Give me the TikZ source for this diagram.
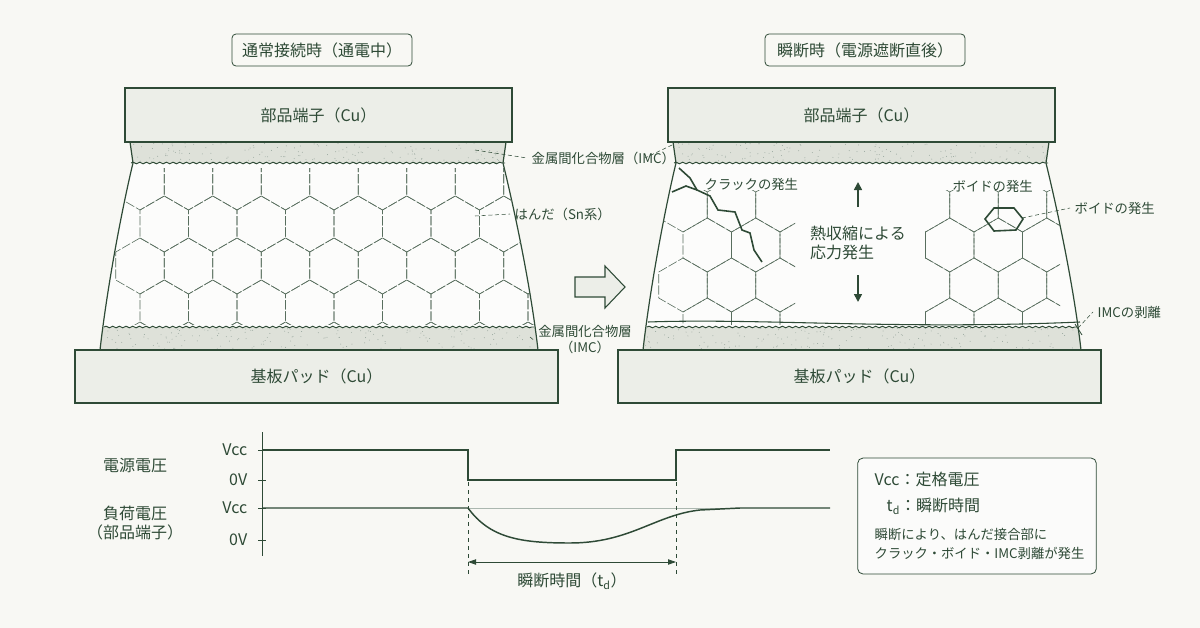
\documentclass[tikz,border=0pt]{standalone}
\usepackage{fontspec}
\setmainfont{Noto Sans CJK JP}
\usetikzlibrary{decorations.pathmorphing, arrows.meta}
\definecolor{ink}{HTML}{2E4A36}
\definecolor{paper}{HTML}{F8F8F4}
\definecolor{metal}{HTML}{ECEEE8}
\definecolor{imc}{HTML}{DEE1D9}
\tikzset{
  label_font/.style = {font=\fontsize{10}{12}\selectfont},
  big_font/.style = {font=\fontsize{12}{14}\selectfont},
  terminal/.style = {draw=ink, line width=0.8pt, fill=metal},
  grain/.style = {ink!80, line width=0.45pt, dash pattern=on 7pt off 1.5pt},
  wavy/.style = {ink, line width=0.7pt, decorate, decoration={snake, amplitude=0.6pt, segment length=5pt}},
  leader/.style = {ink, line width=0.4pt, densely dashed},
  signal/.style = {ink, line width=1.1pt},
  joint_outline/.style = {insert path={(130,142) -- (133,163) .. controls (124,200) and (108,280) .. (100,350)
      -- (538,350) .. controls (530,280) and (512,200) .. (503,163) -- (506,142) -- cycle}}
}
\begin{document}
\begin{tikzpicture}[x=0.75pt, y=-0.75pt, text=ink]
  \fill[paper] (0,0) rectangle (1200,628);
  \useasboundingbox (0,0) rectangle (1200,628);
  \pgfmathsetseed{7}

  % Joints (left: normal, right: after interruption)
  \foreach \dx in {0,543} {
    \begin{scope}[xshift=\dx*0.75pt]
      \fill[white!60!paper, joint_outline];
      \begin{scope}
        \clip[joint_outline];
        \fill[imc] (90,142) rectangle (550,163);
        \fill[imc] (90,327) rectangle (550,350);
        \foreach \i in {1,...,160} {
          \fill[ink!50] ({110+rnd*420},{143+rnd*20}) circle (0.35pt);
          \fill[ink!50] ({95+rnd*450},{328+rnd*21}) circle (0.35pt);
        }
      \end{scope}
      \draw[ink, line width=0.9pt, joint_outline];
      \draw[wavy] (131,163) -- (505,163);
      \draw[wavy] (104,327) -- (534,327);
      \node[terminal, minimum width=290.25pt, minimum height=40.5pt, big_font] (top_\dx) at (318.5,115) {部品端子（Cu）};
      \node[terminal, minimum width=362.25pt, minimum height=39.75pt, big_font] (pad_\dx) at (316.5,376.5) {基板パッド（Cu）};
    \end{scope}
  }

  % Grains
  \begin{scope}
    \clip[joint_outline];
    \clip (105,168) rectangle (535,324);
    \foreach \r in {0,...,4} \foreach \c in {0,...,9} {
      \pgfmathsetmacro\cx{140+\c*48.5+mod(\r,2)*24.25}
      \pgfmathsetmacro\cy{182+\r*42}
      \draw[grain, shift={(\cx,\cy)}] (0,-28) -- (24.25,-14) -- (24.25,14) -- (0,28) -- (-24.25,14) -- (-24.25,-14) -- cycle;
    }
  \end{scope}
  \foreach \xa/\xb in {640/795, 925/1060} {
    \begin{scope}[xshift=543*0.75pt]
      \clip[joint_outline];
      \clip (\xa-543,190) rectangle (\xb-543,324);
      \foreach \r in {0,...,3} \foreach \c in {0,...,9} {
        \pgfmathsetmacro\cx{140+\c*48.5+mod(\r,2)*24.25}
        \pgfmathsetmacro\cy{205+\r*40}
        \draw[grain, shift={(\cx,\cy)}] (0,-27) -- (24.25,-13) -- (24.25,13) -- (0,27) -- (-24.25,13) -- (-24.25,-13) -- cycle;
      }
    \end{scope}
  }

  % Damage
  \draw[ink, line width=1.2pt] (679,168) -- (690,178) -- (697,190) -- (710,196) -- (718,210) -- (735,212) -- (742,230) -- (750,233) -- (754,250) -- (762,262);
  \draw[ink, line width=1.2pt] (672,192) -- (686,186) -- (697,190);
  \draw[ink, line width=1.2pt] (985,219) -- (994,208) -- (1014,208) -- (1023,219) -- (1016,230) -- (994,231) -- cycle;
  \draw[ink, line width=0.8pt] (648,322) .. controls (760,318) and (900,330) .. (1080,322);
  \draw[ink, line width=0.6pt] (1075,324) -- (1082,335);

  % Stress
  \node[big_font, align=left] (stress) at (858,243) {熱収縮による\\応力発生};
  \draw[ink, line width=1.2pt, -{Triangle[length=6pt, width=6pt]}] (858,207) -- (858,182);
  \draw[ink, line width=1.2pt, -{Triangle[length=6pt, width=6pt]}] (858,275) -- (858,302);

  % Titles
  \node[draw=ink, rounded corners=3pt, line width=0.6pt, big_font, minimum width=135pt, minimum height=24pt] (title_l) at (322,50) {通常接続時（通電中）};
  \node[draw=ink, rounded corners=3pt, line width=0.6pt, big_font, minimum width=150pt, minimum height=24pt] (title_r) at (865,50) {瞬断時（電源遮断直後）};

  % Labels
  \node[label_font, anchor=west] (imc_top) at (527,158) {金属間化合物層（IMC）};
  \draw[leader] (475,150) -- (imc_top.west);
  \node[label_font, anchor=west] (sn) at (510,214) {はんだ（Sn系）};
  \draw[leader] (475,216) -- (sn.west);
  \node[label_font, align=center] (imc_bot) at (585,340) {金属間化合物層\\（IMC）};
  \draw[leader] (530,337) -- (imc_bot.west);
  \draw[leader] (672,145) -- (645,158);
  \node[label_font, anchor=west] (crack) at (700,184) {クラックの発生};
  \node[label_font, anchor=west] (void_a) at (948,186) {ボイドの発生};
  \node[label_font, anchor=west] (void_b) at (1070,208) {ボイドの発生};
  \draw[leader] (1022,218) -- (void_b.west);
  \node[label_font, anchor=west] (peel) at (1093,312) {IMCの剥離};
  \draw[leader] (1078,328) -- (peel.west);

  % Step arrow
  \draw[ink, line width=0.8pt, fill=metal] (575,277) -- (605,277) -- (605,266) -- (625,287) -- (605,308) -- (605,297) -- (575,297) -- cycle;

  % Waveforms
  \node[big_font] (sup_lbl) at (135,465) {電源電圧};
  \node[big_font, align=center] (load_lbl) at (135,523) {負荷電圧\\（部品端子）};
  \foreach \y/\t in {450/Vcc, 480/0V, 508/Vcc, 540/0V} {
    \node[big_font, anchor=east] at (252,\y) {\t};
    \draw[ink, line width=0.6pt] (258,\y) -- (266,\y);
  }
  \draw[ink, line width=0.6pt] (262,432) -- (262,556);
  \draw[signal] (262,450) -- (468,450) -- (468,480) -- (676,480) -- (676,450) -- (830,450);
  \draw[ink!40, line width=0.5pt] (468,508) -- (740,508);
  \draw[signal] (262,508) -- (468,508) .. controls (490,538) and (520,543) .. (570,543) .. controls (630,543) and (655,515) .. (700,510) -- (740,508) -- (830,508);
  \coordinate (cut_a) at (468,450);
  \coordinate (cut_b) at (676,450);
  \draw[ink, line width=0.5pt, dashed] (cut_a) -- ++(0,125);
  \draw[ink, line width=0.5pt, dashed] (cut_b) -- ++(0,125);
  \draw[ink, line width=0.6pt, {Triangle[length=6pt, width=4pt]}-{Triangle[length=6pt, width=4pt]}] (468,562) -- (676,562);
  \node[big_font] (td) at (572,581) {瞬断時間（t$_\mathrm{d}$）};

  % Legend
  \node[draw=ink, rounded corners=4pt, line width=0.6pt, fill=white!50!paper, minimum width=179pt, minimum height=87pt] (legend) at (977,516) {};
  \node[big_font, anchor=west] at (870,479) {Vcc：定格電圧};
  \node[big_font, anchor=west] at (882,506) {t$_\mathrm{d}$：瞬断時間};
  \node[label_font, anchor=west, align=left] at (870,544) {瞬断により、はんだ接合部に\\[2pt]クラック・ボイド・IMC剥離が発生};
\end{tikzpicture}
\end{document}
